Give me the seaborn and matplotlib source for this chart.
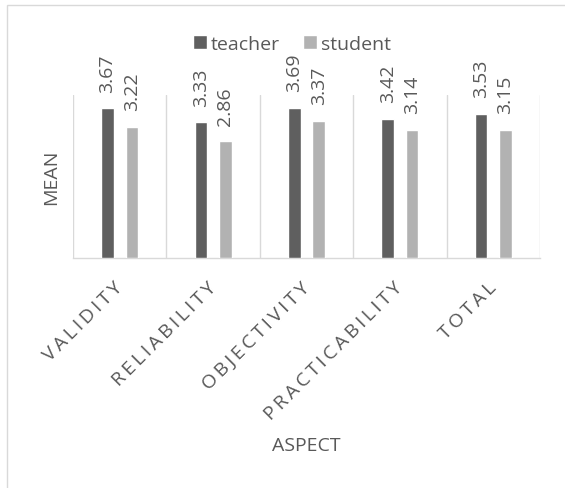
import numpy as np
import pandas as pd
import matplotlib.pyplot as plt
import seaborn as sns
from matplotlib.patches import Rectangle, Patch

# values
aspects = ['VALIDITY', 'RELIABILITY', 'OBJECTIVITY', 'PRACTICABILITY', 'TOTAL']
groups = ['teacher', 'student']
teacher = [3.67, 3.33, 3.69, 3.42, 3.53]
student = [3.22, 2.86, 3.37, 3.14, 3.15]
colors = ['#5f5f5f', '#b2b2b2']

df = pd.DataFrame({
    'aspect': aspects * 2,
    'group': ['teacher'] * len(aspects) + ['student'] * len(aspects),
    'mean': teacher + student,
})

sns.set_style('white')
plt.rcParams['font.family'] = ['Open Sans', 'DejaVu Sans']
txt = '#595959'
grid = '#d9d9d9'

fig = plt.figure(figsize=(5.65, 4.89), dpi=100)
ax = fig.add_axes([73 / 565, 1 - 259 / 489, 467 / 565, 163 / 489])

sns.barplot(data=df, x='aspect', y='mean', hue='group', hue_order=groups,
            palette=colors, saturation=1, width=0.52, gap=0.48,
            legend=False, ax=ax, zorder=3)

# value labels above bars
for cont in ax.containers:
    ax.bar_label(cont, fmt='%.2f', rotation=90, padding=12, color=txt, fontsize=14)

ax.set_xlim(-0.5, len(aspects) - 0.5)
ax.set_ylim(0, 4)
ax.set_yticks([])

# separators between categories
ax.set_xticks(np.arange(-0.5, len(aspects)), minor=True)
ax.grid(which='minor', axis='x', color=grid, lw=1)
ax.grid(which='major', visible=False)
ax.tick_params(which='both', length=0)
ax.set_axisbelow(True)

for s in ['top', 'right', 'left']:
    ax.spines[s].set_visible(False)
ax.spines['bottom'].set_color(grid)
ax.spines['bottom'].set_linewidth(1)

# letter-spaced category labels
ax.set_xticks(range(len(aspects)))
ax.set_xticklabels(['\u2009'.join(a) for a in aspects], rotation=45, ha='right',
                   va='center', rotation_mode='anchor', fontsize=14, color=txt)
ax.tick_params(axis='x', pad=19)

ax.set_xlabel('ASPECT', fontsize=14, color=txt)
ax.xaxis.set_label_coords(0.5, -1.09)
ax.set_ylabel('MEAN', fontsize=14, color=txt)
ax.yaxis.set_label_coords(-0.027, 0.5)

handles = [Patch(facecolor=c, label=g) for c, g in zip(colors, groups)]
fig.legend(handles=handles, loc='center', bbox_to_anchor=(292 / 565, 1 - 45 / 489),
           ncol=2, frameon=False, fontsize=14, handlelength=0.72, handleheight=0.72,
           handletextpad=0.2, columnspacing=1.2, labelcolor=txt)

# chart area border (cut off on the right and bottom)
fig.add_artist(Rectangle((7 / 565, -0.1), 1, 1.1 - 6 / 489, transform=fig.transFigure,
                         fill=False, edgecolor=grid, lw=1))

fig.savefig('out.png', dpi=100)
